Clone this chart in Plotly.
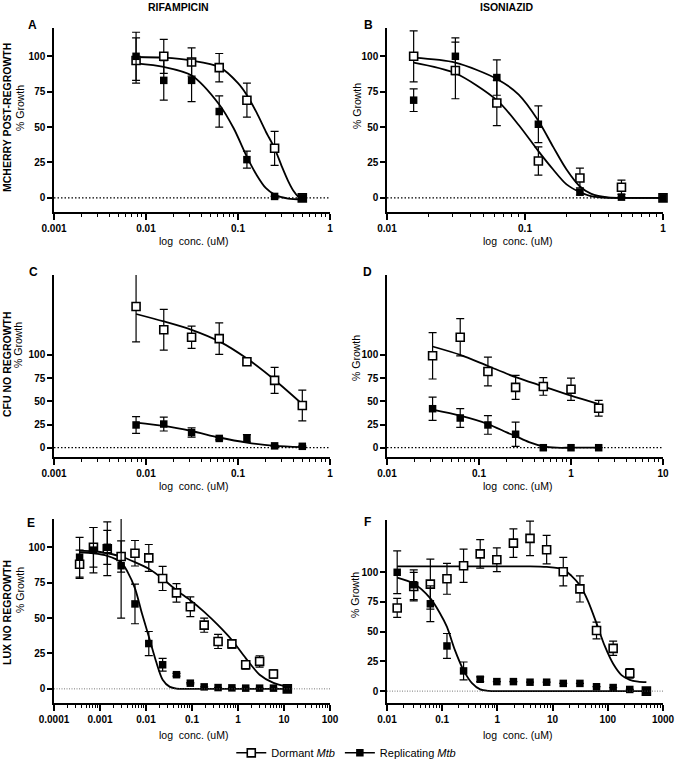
import plotly.graph_objects as go
from plotly.subplots import make_subplots

W, H = 675, 759
FONT = "Liberation Sans, Arial, sans-serif"

# ---- A: rifampicin, mCherry post-regrowth
a_conc = [0.0078, 0.0156, 0.0313, 0.0625, 0.125, 0.25, 0.5]
a_dorm = [97, 100, 96, 92, 69, 35, 0]
a_dorm_err = [16, 12, 10, 10, 12, 12, 0]
a_rep = [100, 83, 83, 61, 27, 1, 0]
a_rep_err = [17, 14, 15, 11, 6, 0, 0]
a_fit_dorm_x = [0.0078, 0.0156, 0.0313, 0.0625, 0.1, 0.125, 0.16, 0.2, 0.25, 0.3, 0.35, 0.4, 0.45, 0.5]
a_fit_dorm_y = [99.5, 99, 97, 92.5, 81, 72.5, 60, 47, 35, 22, 12, 5, 1, -0.5]
a_fit_rep_x = [0.0078, 0.0156, 0.0313, 0.0625, 0.09, 0.125, 0.16, 0.2, 0.25, 0.35, 0.5]
a_fit_rep_y = [95, 92.5, 86.5, 66, 49, 29, 16, 7, 2.3, -0.5, -1]

# ---- B: isoniazid, mCherry post-regrowth
b_conc = [0.0156, 0.0313, 0.0625, 0.125, 0.25, 0.5, 1.0]
b_dorm = [100, 90, 67, 26, 14, 7.5, 0]
b_dorm_err = [18, 20, 16, 10, 7, 5, 0]
b_rep = [69, 100, 85, 52, 4, 0.5, 0]
b_rep_err = [8, 13, 12.5, 13, 2, 0, 0]
b_fit_x = [0.0156, 0.0313, 0.0625, 0.09, 0.125, 0.16, 0.2, 0.25, 0.3, 0.4, 0.6, 1.0]
b_fit_dorm_y = [95.5, 88, 69, 51.5, 33, 20, 9.5, 4, 1.2, 0, 0, 0]
b_fit_rep_y = [99, 95.5, 84, 73, 54.5, 36, 20, 8, 3, 0.3, 0, 0]

# ---- C: rifampicin, CFU no regrowth
c_conc = [0.0078, 0.0156, 0.0313, 0.0625, 0.125, 0.25, 0.5]
c_dorm = [152, 127, 119, 117.5, 92.5, 72.5, 45.5]
c_dorm_err = [38, 22, 12, 17, 3, 14, 16.5]
c_rep = [24.5, 25.5, 16.5, 10, 10, 2, 1.5]
c_rep_err = [9, 7.5, 5, 1.5, 4, 0.5, 0.5]
c_fit_dorm_y = [144, 136, 127, 114.5, 96, 73, 47]
c_fit_rep_y = [27, 23.5, 18, 11, 5.5, 2, 0.7]

# ---- D: isoniazid, CFU no regrowth
d_conc = [0.0313, 0.0625, 0.125, 0.25, 0.5, 1, 2]
d_dorm = [99, 119, 82, 65, 66, 63, 42.5]
d_dorm_err = [25, 20, 15.5, 13, 9.5, 12, 8.5]
d_rep = [42, 32, 24.5, 14.5, 0, 0, 0]
d_rep_err = [12.5, 10, 10, 13, 0, 0, 0]
d_fit_dorm_y = [109, 100, 88, 76, 66, 56, 47]
d_fit_rep_x = [0.0313, 0.0625, 0.125, 0.2, 0.25, 0.35, 0.5, 0.7, 1, 2]
d_fit_rep_y = [41, 34.5, 25.5, 16.5, 12.5, 6, 1.5, 0, 0, 0]

# ---- E: rifampicin, lux no regrowth
e_conc = [0.00036, 0.00072, 0.00144, 0.00288, 0.00576, 0.0115, 0.023, 0.046,
          0.092, 0.184, 0.369, 0.737, 1.47, 2.95, 5.9, 11.8]
e_dorm = [88, 100, 99, 93.5, 95.8, 92.5, 78, 67.8, 58, 45, 33.5, 31.8, 17, 19.4, 10.5, 0]
e_dorm_err = [10, 14, 19, 11, 9, 9.5, 8.5, 6.5, 7, 5, 5, 3, 3, 4, 3, 0]
e_rep = [93, 98, 100, 87, 60, 32, 17, 10, 4, 1.4, 0.9, 0.7, 0.5, 0.5, 0.5, 0]
e_rep_err = [14, 16, 12, 37, 14, 8.5, 4.5, 1, 0.5, 0, 0, 0, 0, 0, 0, 0]
e_fit_dorm_y = [97.7, 97.2, 95.8, 93.5, 89.5, 84.8, 77.8, 69.6, 62.6, 54.4, 45, 34.5,
                21.7, 10, 4.2, 1.4]
e_fit_rep_x = [0.00036, 0.00072, 0.00144, 0.00288, 0.004, 0.00576, 0.0082, 0.0115,
               0.0165, 0.023, 0.033, 0.046, 0.092, 0.369, 1.47, 11.8]
e_fit_rep_y = [96.5, 95.8, 94, 89.5, 82.5, 71, 53, 37, 19.5, 6.5, 1.4, 0.2, 0, 0, 0, 0]

# ---- F: isoniazid, lux no regrowth
f_conc = [0.0153, 0.0305, 0.061, 0.122, 0.244, 0.488, 0.977, 1.95, 3.9, 7.8, 15.6,
          31.25, 62.5, 125, 250, 500]
f_dorm = [70, 88, 90, 94.5, 105.5, 115.5, 110.5, 124.5, 128.5, 119, 100.5, 86, 51, 36, 15, 0]
f_dorm_err = [8, 12, 21, 13, 14, 12, 10, 12, 14.5, 12, 12, 11, 7, 6, 4, 0]
f_rep = [100, 89.5, 73.5, 38, 17, 10, 8, 8, 7.5, 7.5, 6.5, 6.5, 3.7, 3, 1.4, 0]
f_rep_err = [18, 12.5, 15, 10.5, 7.5, 2, 0, 0, 0, 0, 0, 0, 0, 0, 0, 0]
f_fit_dorm_x = [0.0153, 0.122, 0.977, 3.9, 7.8, 15.6, 22, 31.25, 44, 62.5, 88, 125,
                177, 250, 354, 500]
f_fit_dorm_y = [105, 105, 105, 105, 104.5, 102.5, 97, 89, 75.5, 57, 38, 23, 13.5, 9.5, 8, 7.5]
f_fit_rep_x = [0.0153, 0.0305, 0.061, 0.09, 0.122, 0.17, 0.244, 0.35, 0.488, 0.7, 0.977, 500]
f_fit_rep_y = [95.5, 90.5, 78, 66, 54, 34.5, 17.5, 6.5, 1.4, 0.2, 0, 0]

panels = [
    dict(row=1, col=1, box=(54, 330, 28, 212), xr=[-3, 0], yr=[-10, 120],
         conc=a_conc, dorm=a_dorm, dorm_err=a_dorm_err, rep=a_rep, rep_err=a_rep_err,
         fd=(a_fit_dorm_x, a_fit_dorm_y), fr=(a_fit_rep_x, a_fit_rep_y), fine=False),
    dict(row=1, col=2, box=(387, 663, 28, 212), xr=[-2, 0], yr=[-10, 120],
         conc=b_conc, dorm=b_dorm, dorm_err=b_dorm_err, rep=b_rep, rep_err=b_rep_err,
         fd=(b_fit_x, b_fit_dorm_y), fr=(b_fit_x, b_fit_rep_y), fine=False),
    dict(row=2, col=1, box=(54, 330, 275, 457), xr=[-3, 0], yr=[-10, 186],
         conc=c_conc, dorm=c_dorm, dorm_err=c_dorm_err, rep=c_rep, rep_err=c_rep_err,
         fd=(c_conc, c_fit_dorm_y), fr=(c_conc, c_fit_rep_y), fine=False),
    dict(row=2, col=2, box=(387, 663, 275, 457), xr=[-2, 1], yr=[-10, 186],
         conc=d_conc, dorm=d_dorm, dorm_err=d_dorm_err, rep=d_rep, rep_err=d_rep_err,
         fd=(d_conc, d_fit_dorm_y), fr=(d_fit_rep_x, d_fit_rep_y), fine=False),
    dict(row=3, col=1, box=(54, 330, 519, 703), xr=[-4, 2], yr=[-10, 120],
         conc=e_conc, dorm=e_dorm, dorm_err=e_dorm_err, rep=e_rep, rep_err=e_rep_err,
         fd=(e_conc, e_fit_dorm_y), fr=(e_fit_rep_x, e_fit_rep_y), fine=True),
    dict(row=3, col=2, box=(387, 663, 520, 703), xr=[-2, 3], yr=[-10, 144],
         conc=f_conc, dorm=f_dorm, dorm_err=f_dorm_err, rep=f_rep, rep_err=f_rep_err,
         fd=(f_fit_dorm_x, f_fit_dorm_y), fr=(f_fit_rep_x, f_fit_rep_y), fine=True),
]

fig = make_subplots(rows=3, cols=2)

open_marker = dict(symbol="square", size=8, color="white", line=dict(color="black", width=1.6))
fill_marker = dict(symbol="square", size=7.5, color="black", line=dict(color="black", width=0))

for i, p in enumerate(panels, start=1):
    r, c = p["row"], p["col"]
    for fx, fy in (p["fd"], p["fr"]):
        fig.add_trace(go.Scatter(x=fx, y=fy, mode="lines",
                                 line=dict(color="black", width=1.8, shape="spline", smoothing=0.8),
                                 showlegend=False, hoverinfo="skip"), row=r, col=c)
    fig.add_trace(go.Scatter(x=p["conc"], y=p["dorm"], mode="markers", marker=open_marker,
                             error_y=dict(type="data", array=p["dorm_err"], color="black", thickness=1.2, width=4),
                             cliponaxis=False, showlegend=False), row=r, col=c)
    fig.add_trace(go.Scatter(x=p["conc"], y=p["rep"], mode="markers", marker=fill_marker,
                             error_y=dict(type="data", array=p["rep_err"], color="black", thickness=1.2, width=4),
                             cliponaxis=False, showlegend=False), row=r, col=c)
    if p["fine"]:
        fig.add_hline(y=0, line=dict(color="#555", width=0.8, dash="1px,1.5px"), row=r, col=c)
    else:
        fig.add_hline(y=0, line=dict(color="black", width=1.2, dash="1.5px,2px"), row=r, col=c)

    left, right, top, bottom = p["box"]
    lo, hi = p["xr"]
    xdom = [left / W, right / W]
    major = [10.0 ** d for d in range(lo, hi + 1)]
    labels = [("%g" % v) if v >= 1 else ("%." + str(-d) + "f") % v for v, d in zip(major, range(lo, hi + 1))]
    minor = [k * 10.0 ** d for d in range(lo, hi) for k in range(2, 10)]
    fig.update_xaxes(type="log", range=p["xr"], domain=xdom,
                     showline=True, linecolor="black", linewidth=1.5, showgrid=False, zeroline=False,
                     ticks="outside", ticklen=6, tickwidth=1.5, tickcolor="black",
                     tickvals=major, ticktext=labels,
                     tickfont=dict(family=FONT, size=10, color="black", weight="bold"),
                     row=r, col=c)
    fig.update_yaxes(range=p["yr"], domain=[1 - bottom / H, 1 - top / H],
                     showline=True, linecolor="black", linewidth=1.5, showgrid=False, zeroline=False,
                     ticks="outside", ticklen=5, tickwidth=1.5, tickcolor="black",
                     tickvals=[0, 25, 50, 75, 100],
                     tickfont=dict(family=FONT, size=10, color="black", weight="bold"),
                     row=r, col=c)

    # second x axis on top of the first one, only for the small log ticks
    base = "x" if i == 1 else "x%d" % i
    ybase = "y" if i == 1 else "y%d" % i
    n = 6 + i
    fig.update_layout(**{"xaxis%d" % n: dict(
        type="log", range=p["xr"], domain=xdom, overlaying=base, anchor=ybase, side="bottom",
        showline=False, showgrid=False, zeroline=False, showticklabels=False,
        tickvals=minor, ticks="outside", ticklen=3.5, tickwidth=1.1, tickcolor="black")})
    fig.add_trace(go.Scatter(x=[None], y=[None], xaxis="x%d" % n, yaxis=ybase,
                             showlegend=False, hoverinfo="skip"))

# legend entries
fig.add_trace(go.Scatter(x=[None], y=[None], mode="lines+markers", name="Dormant <i>Mtb</i>",
                         line=dict(color="black", width=1.5), marker=open_marker), row=1, col=1)
fig.add_trace(go.Scatter(x=[None], y=[None], mode="lines+markers", name="Replicating <i>Mtb</i>",
                         line=dict(color="black", width=1.5), marker=fill_marker), row=1, col=1)


def note(text, x, y, size=10.5, bold=False, angle=0):
    fig.add_annotation(text=text, x=x / W, y=1 - y / H, xref="paper", yref="paper",
                       showarrow=False, textangle=angle, xanchor="center", yanchor="middle",
                       font=dict(family=FONT, size=size, color="black", weight="bold" if bold else "normal"))


note("RIFAMPICIN", 178, 7, 10.5, True)
note("ISONIAZID", 507, 7, 10.5, True)
for letter, x, y in [("A", 32, 25), ("B", 368, 25), ("C", 33, 272), ("D", 367, 272), ("E", 31, 523), ("F", 367, 522)]:
    note(letter, x, y, 12, True)

note("MCHERRY POST-REGROWTH", 7, 118, 10.5, True, -90)
note("% Growth", 20, 108, 10.5, False, -90)
note("% Growth", 357, 106, 10.5, False, -90)
note("CFU NO REGROWTH", 7, 364, 10.5, True, -90)
note("% Growth", 18, 345, 10.5, False, -90)
note("% Growth", 356, 358, 10.5, False, -90)
note("LUX NO REGROWTH", 7, 613, 10.5, True, -90)
note("% Growth", 20, 590, 10.5, False, -90)
note("% Growth", 355, 595, 10.5, False, -90)

for y in (241, 486, 735):
    note("log\u00a0 conc. (uM)", 193, y, 10.5)
    note("log\u00a0 conc. (uM)", 517, y, 10.5)

fig.update_layout(
    width=W, height=H,
    margin=dict(l=0, r=0, t=0, b=0, autoexpand=False),
    paper_bgcolor="white", plot_bgcolor="white",
    showlegend=True,
    legend=dict(orientation="h", x=0.513, xanchor="center", y=-0.011, yanchor="bottom",
                font=dict(family=FONT, size=11, color="black"), itemwidth=30,
                bgcolor="rgba(0,0,0,0)"),
)

# the page body has a default 8px margin; drop it so the figure sits at the window corner
fig.write_html("out.html", config={"displayModeBar": False},
               post_script="document.body.style.margin='0';")
